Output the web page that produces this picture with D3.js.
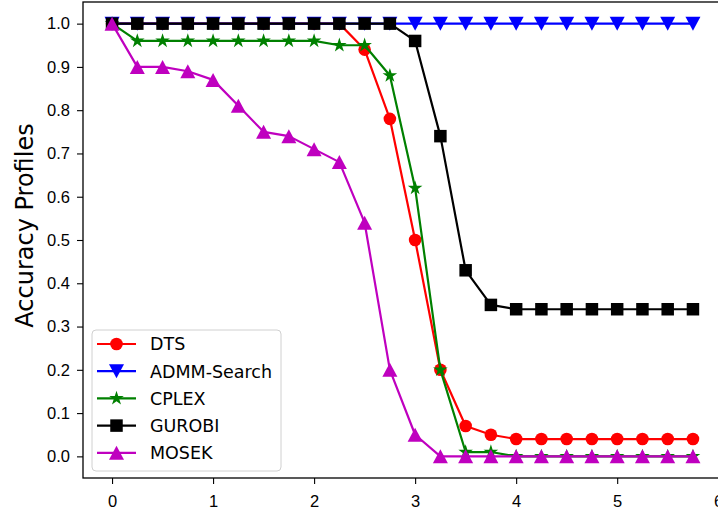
<!DOCTYPE html>
<html>
<head>
<meta charset="utf-8">
<script src="https://cdn.jsdelivr.net/npm/d3@7"></script>
<style>
  html, body { margin: 0; padding: 0; background: #fff; }
  svg { display: block; font-family: "DejaVu Sans", sans-serif; }
</style>
</head>
<body>
<svg id="chart" width="718" height="510"></svg>
<script>
// Time budget multiples (x) and per-solver accuracy profiles
const xValues = [0, 0.25, 0.5, 0.75, 1, 1.25, 1.5, 1.75, 2, 2.25, 2.5, 2.75,
                 3, 3.25, 3.5, 3.75, 4, 4.25, 4.5, 4.75, 5, 5.25, 5.5, 5.75];

const dtsValues    = [1, 1, 1, 1, 1, 1, 1, 1, 1, 1, 0.94, 0.78,
                      0.5, 0.2, 0.07, 0.05, 0.04, 0.04, 0.04, 0.04, 0.04, 0.04, 0.04, 0.04];
const admmValues   = [1, 1, 1, 1, 1, 1, 1, 1, 1, 1, 1, 1,
                      1, 1, 1, 1, 1, 1, 1, 1, 1, 1, 1, 1];
const cplexValues  = [1, 0.96, 0.96, 0.96, 0.96, 0.96, 0.96, 0.96, 0.96, 0.95, 0.95, 0.88,
                      0.62, 0.2, 0.01, 0.01, 0, 0, 0, 0, 0, 0, 0, 0];
const gurobiValues = [1, 1, 1, 1, 1, 1, 1, 1, 1, 1, 1, 1,
                      0.96, 0.74, 0.43, 0.35, 0.34, 0.34, 0.34, 0.34, 0.34, 0.34, 0.34, 0.34];
const mosekValues  = [1, 0.9, 0.9, 0.89, 0.87, 0.81, 0.75, 0.74, 0.71, 0.68, 0.54, 0.2,
                      0.05, 0, 0, 0, 0, 0, 0, 0, 0, 0, 0, 0];

const seriesNames = ["DTS", "ADMM-Search", "CPLEX", "GUROBI", "MOSEK"];
const xTicks = [0, 1, 2, 3, 4, 5, 6];
const yTicks = [0, 0.1, 0.2, 0.3, 0.4, 0.5, 0.6, 0.7, 0.8, 0.9, 1.0];

const series = [
  { name: seriesNames[0], values: dtsValues,    color: "#ff0000", symbol: "circle" },
  { name: seriesNames[1], values: admmValues,   color: "#0000ff", symbol: "triangleDown" },
  { name: seriesNames[2], values: cplexValues,  color: "#008000", symbol: "star" },
  { name: seriesNames[3], values: gurobiValues, color: "#000000", symbol: "square" },
  { name: seriesNames[4], values: mosekValues,  color: "#bf00bf", symbol: "triangleUp" }
];

const svg = d3.select("#chart");
const plot = { left: 83, right: 722, top: 2, bottom: 478 };

const x = d3.scaleLinear().domain([-0.2875, 6.0375]).range([plot.left, plot.right]);
const y = d3.scaleLinear().domain([-0.05, 1.05]).range([plot.bottom, plot.top]);

// Marker shapes
function markerPath(kind) {
  switch (kind) {
    case "circle": return d3.symbol().type(d3.symbolCircle).size(Math.PI * 6.3 * 6.3)();
    case "square": return d3.symbol().type(d3.symbolSquare).size(12.5 * 12.5)();
    case "star": return d3.symbol().type(d3.symbolStar).size(66)();
    case "triangleUp": {
      const w = 7.5, h = 7;
      return `M0,${-h}L${w},${h}L${-w},${h}Z`;
    }
    case "triangleDown": {
      const w = 7.5, h = 7;
      return `M0,${h}L${w},${-h}L${-w},${-h}Z`;
    }
  }
}

// Clip to the axes area
svg.append("defs").append("clipPath").attr("id", "plotClip")
  .append("rect")
  .attr("x", plot.left).attr("y", plot.top)
  .attr("width", plot.right - plot.left).attr("height", plot.bottom - plot.top);

const g = svg.append("g").attr("clip-path", "url(#plotClip)");

const line = d3.line().x((d, i) => x(xValues[i])).y(d => y(d));

series.forEach(s => {
  const sg = g.append("g");
  sg.append("path")
    .attr("d", line(s.values))
    .attr("fill", "none")
    .attr("stroke", s.color)
    .attr("stroke-width", 2.2)
    .attr("stroke-linejoin", "round");
  sg.selectAll("path.mk")
    .data(s.values)
    .join("path")
    .attr("class", "mk")
    .attr("d", markerPath(s.symbol))
    .attr("transform", (d, i) => `translate(${x(xValues[i])},${y(d)})`)
    .attr("fill", s.color);
});

// Axes
const xAxis = d3.axisBottom(x).tickValues(xTicks).tickFormat(d3.format("d"))
  .tickSizeOuter(0).tickSize(6).tickPadding(11);
const yAxis = d3.axisLeft(y).tickValues(yTicks).tickFormat(d3.format(".1f"))
  .tickSizeOuter(0).tickSize(6).tickPadding(7);

const gx = svg.append("g").attr("transform", `translate(0,${plot.bottom})`).call(xAxis);
const gy = svg.append("g").attr("transform", `translate(${plot.left},0)`).call(yAxis);
[gx, gy].forEach(a => {
  a.select(".domain").remove();
  a.selectAll(".tick line").attr("stroke", "#000").attr("stroke-width", 1.1);
  a.selectAll(".tick text").attr("fill", "#000").style("font-size", "16.5px");
});

// Spines
svg.append("rect")
  .attr("x", plot.left).attr("y", plot.top)
  .attr("width", plot.right - plot.left).attr("height", plot.bottom - plot.top)
  .attr("fill", "none").attr("stroke", "#000").attr("stroke-width", 1.3);

// Y axis title
svg.append("text")
  .attr("transform", `translate(32.5,225.5) rotate(-90)`)
  .attr("text-anchor", "middle")
  .style("font-size", "24px")
  .attr("fill", "#000")
  .text("Accuracy Profiles");

// Legend
const legend = svg.append("g").attr("transform", "translate(92,330)");
legend.append("rect")
  .attr("width", 189).attr("height", 141)
  .attr("rx", 4).attr("ry", 4)
  .attr("fill", "#fff").attr("fill-opacity", 0.8)
  .attr("stroke", "#d0d0d0").attr("stroke-width", 1);

series.forEach((s, i) => {
  const cy = 14 + i * 27.2;
  const row = legend.append("g").attr("transform", `translate(0,${cy})`);
  row.append("line")
    .attr("x1", 5).attr("x2", 44).attr("y1", 0).attr("y2", 0)
    .attr("stroke", s.color).attr("stroke-width", 2.2);
  row.append("path")
    .attr("d", markerPath(s.symbol))
    .attr("transform", "translate(24.5,0)")
    .attr("fill", s.color);
  row.append("text")
    .attr("x", 58).attr("y", 0).attr("dy", "0.36em")
    .style("font-size", "17.5px")
    .attr("fill", "#000")
    .text(s.name);
});
</script>
</body>
</html>
